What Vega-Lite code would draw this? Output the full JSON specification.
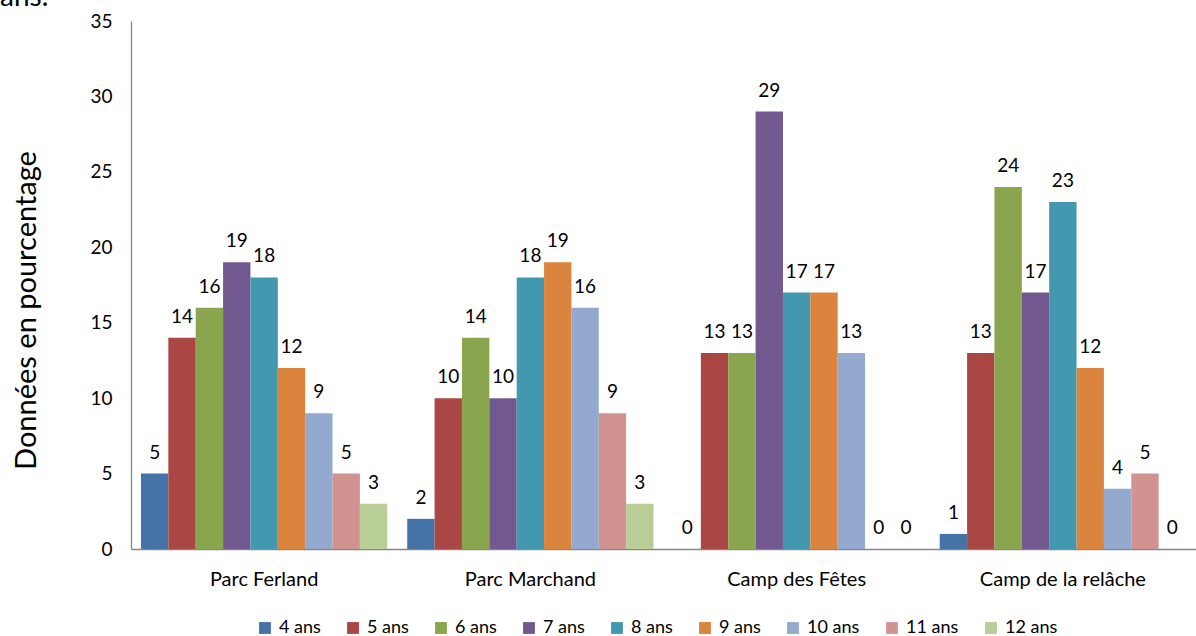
{
  "$schema": "https://vega.github.io/schema/vega-lite/v6.json",
  "width": 1065,
  "height": 528,
  "autosize": {"type": "none"},
  "padding": {"left": 131, "top": 21, "right": 0, "bottom": 87},
  "background": "white",
  "title": {"text": "ans.", "orient": "top", "anchor": "start", "frame": "group", "dx": -131, "offset": -22, "baseline": "alphabetic", "fontSize": 28, "font": "Lato", "fontWeight": "normal", "color": "#000000"},
  "config": {"view": {"stroke": null}, "font": "Lato"},
  "data": {"values": [
    {"lieu": "Parc Ferland", "age": "4 ans", "valeur": 5},
    {"lieu": "Parc Ferland", "age": "5 ans", "valeur": 14},
    {"lieu": "Parc Ferland", "age": "6 ans", "valeur": 16},
    {"lieu": "Parc Ferland", "age": "7 ans", "valeur": 19},
    {"lieu": "Parc Ferland", "age": "8 ans", "valeur": 18},
    {"lieu": "Parc Ferland", "age": "9 ans", "valeur": 12},
    {"lieu": "Parc Ferland", "age": "10 ans", "valeur": 9},
    {"lieu": "Parc Ferland", "age": "11 ans", "valeur": 5},
    {"lieu": "Parc Ferland", "age": "12 ans", "valeur": 3},
    {"lieu": "Parc Marchand", "age": "4 ans", "valeur": 2},
    {"lieu": "Parc Marchand", "age": "5 ans", "valeur": 10},
    {"lieu": "Parc Marchand", "age": "6 ans", "valeur": 14},
    {"lieu": "Parc Marchand", "age": "7 ans", "valeur": 10},
    {"lieu": "Parc Marchand", "age": "8 ans", "valeur": 18},
    {"lieu": "Parc Marchand", "age": "9 ans", "valeur": 19},
    {"lieu": "Parc Marchand", "age": "10 ans", "valeur": 16},
    {"lieu": "Parc Marchand", "age": "11 ans", "valeur": 9},
    {"lieu": "Parc Marchand", "age": "12 ans", "valeur": 3},
    {"lieu": "Camp des Fêtes", "age": "4 ans", "valeur": 0},
    {"lieu": "Camp des Fêtes", "age": "5 ans", "valeur": 13},
    {"lieu": "Camp des Fêtes", "age": "6 ans", "valeur": 13},
    {"lieu": "Camp des Fêtes", "age": "7 ans", "valeur": 29},
    {"lieu": "Camp des Fêtes", "age": "8 ans", "valeur": 17},
    {"lieu": "Camp des Fêtes", "age": "9 ans", "valeur": 17},
    {"lieu": "Camp des Fêtes", "age": "10 ans", "valeur": 13},
    {"lieu": "Camp des Fêtes", "age": "11 ans", "valeur": 0},
    {"lieu": "Camp des Fêtes", "age": "12 ans", "valeur": 0},
    {"lieu": "Camp de la relâche", "age": "4 ans", "valeur": 1},
    {"lieu": "Camp de la relâche", "age": "5 ans", "valeur": 13},
    {"lieu": "Camp de la relâche", "age": "6 ans", "valeur": 24},
    {"lieu": "Camp de la relâche", "age": "7 ans", "valeur": 17},
    {"lieu": "Camp de la relâche", "age": "8 ans", "valeur": 23},
    {"lieu": "Camp de la relâche", "age": "9 ans", "valeur": 12},
    {"lieu": "Camp de la relâche", "age": "10 ans", "valeur": 4},
    {"lieu": "Camp de la relâche", "age": "11 ans", "valeur": 5},
    {"lieu": "Camp de la relâche", "age": "12 ans", "valeur": 0}
  ]},
  "encoding": {
    "x": {"field": "lieu", "type": "nominal", "sort": ["Parc Ferland", "Parc Marchand", "Camp des Fêtes", "Camp de la relâche"],
      "scale": {"paddingInner": 0.075, "paddingOuter": 0.0375},
      "axis": {"title": null, "labelAngle": 0, "labelFontSize": 20, "labelColor": "#000000", "labelPadding": 20, "ticks": false, "domainColor": "#868686", "domainWidth": 1.3, "labelFont": "Lato"}},
    "xOffset": {"field": "age", "type": "nominal", "sort": ["4 ans", "5 ans", "6 ans", "7 ans", "8 ans", "9 ans", "10 ans", "11 ans", "12 ans"], "scale": {"paddingInner": 0, "paddingOuter": 0}},
    "y": {"field": "valeur", "type": "quantitative", "scale": {"domain": [0, 35], "nice": false},
      "axis": {"values": [0, 5, 10, 15, 20, 25, 30, 35], "grid": false, "ticks": false, "title": "Données en pourcentage", "titleFontSize": 29, "titleFontWeight": "normal", "titleColor": "#000000", "titlePadding": 48, "titleY": 289, "titleFont": "Lato", "labelFontSize": 19, "labelColor": "#000000", "labelPadding": 19, "domainColor": "#868686", "domainWidth": 1.3, "labelFont": "Lato"}}
  },
  "layer": [
    {
      "mark": {"type": "bar"},
      "encoding": {
        "color": {"field": "age", "type": "nominal", "sort": ["4 ans", "5 ans", "6 ans", "7 ans", "8 ans", "9 ans", "10 ans", "11 ans", "12 ans"],
          "scale": {"domain": ["4 ans", "5 ans", "6 ans", "7 ans", "8 ans", "9 ans", "10 ans", "11 ans", "12 ans"], "range": ["#4572A7", "#AA4643", "#89A54E", "#71588F", "#4198AF", "#DB843D", "#93A9CF", "#D19392", "#B9CD96"]},
          "legend": {"orient": "none", "legendX": 125, "legendY": 598, "direction": "horizontal", "title": null, "symbolType": "square", "symbolSize": 140, "symbolStrokeWidth": 0, "labelFontSize": 18, "labelColor": "#000000", "labelFont": "Lato", "columnPadding": 23, "labelOffset": 5}}
      }
    },
    {
      "mark": {"type": "text", "baseline": "alphabetic", "dy": -15, "fontSize": 19, "color": "#000000", "font": "Lato"},
      "encoding": {"text": {"field": "valeur", "type": "quantitative"}}
    }
  ]
}
